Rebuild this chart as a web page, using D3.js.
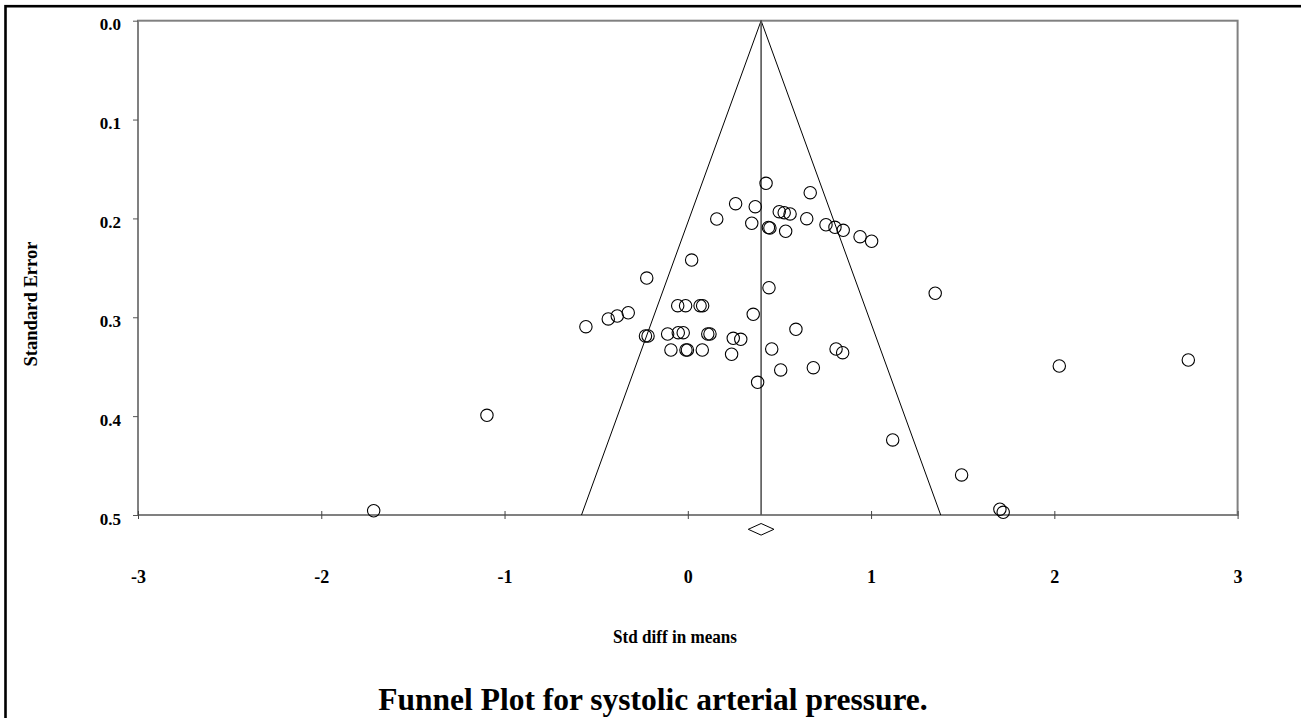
<!DOCTYPE html>
<html>
<head>
<meta charset="utf-8">
<script src="https://cdn.jsdelivr.net/npm/d3@7"></script>
<style>
  html, body { margin: 0; padding: 0; background: #fff; }
  svg { display: block; }
  text { font-family: "Times New Roman", "Liberation Serif", serif; font-weight: bold; fill: #000; }
</style>
</head>
<body>
<svg id="chart" width="1301" height="718"></svg>
<script>
// ---- data ----
const stdDiff = [0.158, 0.261, 0.368, 0.349, 0.427, 0.668, 0.440, 0.448, 0.499, 0.526,
  0.558, 0.534, 0.649, 0.754, 0.803, 0.848, 0.940, 1.003, 0.021, -0.224,
  -0.556, -0.434, -0.385, -0.325, -0.231, -0.217, -0.055, -0.012, 0.067, 0.081,
  -0.110, -0.052, -0.025, 0.109, 0.121, -0.092, -0.010, -0.002, 0.079, 0.248,
  0.289, 0.239, 0.381, 0.443, 0.357, 0.590, 0.458, 0.809, 0.845, 0.507,
  0.685, 1.350, 2.027, 2.731, 1.118, 1.494, 1.703, 1.721, -1.096, -1.714];
const stdErr = [0.2006, 0.1851, 0.1881, 0.2049, 0.1645, 0.1740, 0.2092, 0.2097, 0.1932, 0.1942,
  0.1955, 0.2130, 0.2003, 0.2064, 0.2090, 0.2120, 0.2185, 0.2231, 0.2421, 0.2603,
  0.3095, 0.3017, 0.2987, 0.2954, 0.3189, 0.3189, 0.2883, 0.2883, 0.2883, 0.2883,
  0.3169, 0.3156, 0.3156, 0.3169, 0.3169, 0.3331, 0.3331, 0.3331, 0.3331, 0.3213,
  0.3223, 0.3374, 0.3658, 0.2701, 0.2970, 0.3122, 0.3321, 0.3321, 0.3358, 0.3533,
  0.3510, 0.2757, 0.3493, 0.3432, 0.4241, 0.4595, 0.4942, 0.4973, 0.3992, 0.4957];
const xTicks = [-3, -2, -1, 0, 1, 2, 3];
const xTickLabels = ["-3", "-2", "-1", "0", "1", "2", "3"];
const yTicks = [0.0, 0.1, 0.2, 0.3, 0.4, 0.5];
const yTickLabels = ["0.0", "0.1", "0.2", "0.3", "0.4", "0.5"];
const meanEffect = 0.40;
const meanCIHalf = 0.07;
const zCrit = 1.96;
const xDomain = [-3, 3];
const yDomain = [0, 0.5];
const xLabel = "Std diff in means";
const yLabel = "Standard Error";
const title = "Funnel Plot for systolic arterial pressure.";

// ---- drawing ----
const svg = d3.select("#chart");
svg.append("rect").attr("width", 1301).attr("height", 718).attr("fill", "#fff");

// outer border (only top/left visible in the frame)
svg.append("rect").attr("x", 5.5).attr("y", 6.2).attr("width", 1400).attr("height", 800)
  .attr("fill", "none").attr("stroke", "#000").attr("stroke-width", 2.6);

const x = d3.scaleLinear().domain(xDomain).range([138, 1237.6]);
const y = d3.scaleLinear().domain(yDomain).range([20.7, 515]);

// plot frame
svg.append("rect")
  .attr("x", x.range()[0]).attr("y", y.range()[0])
  .attr("width", x.range()[1] - x.range()[0]).attr("height", y.range()[1] - y.range()[0])
  .attr("fill", "none").attr("stroke", "#808080").attr("stroke-width", 2);

// y axis
const yAxis = svg.append("g").attr("transform", `translate(${x.range()[0]},0)`)
  .call(d3.axisLeft(y).tickValues(yTicks).tickFormat((d, i) => yTickLabels[i]).tickSize(5).tickPadding(12));
yAxis.select(".domain").remove();
yAxis.selectAll("line").attr("stroke", "#555");
yAxis.selectAll("text").attr("font-size", 17).attr("dy", "0.53em")
  .style("font-family", "'Times New Roman','Liberation Serif',serif").style("font-weight", "bold").attr("fill", "#000");

// x axis (ticks cross the bottom line)
const xAxis = svg.append("g").attr("transform", `translate(0,${y.range()[1] - 4})`)
  .call(d3.axisBottom(x).tickValues(xTicks).tickFormat((d, i) => xTickLabels[i]).tickSize(8).tickPadding(51));
xAxis.select(".domain").remove();
xAxis.selectAll("line").attr("stroke", "#444");
xAxis.selectAll("text").attr("font-size", 18)
  .style("font-family", "'Times New Roman','Liberation Serif',serif").style("font-weight", "bold").attr("fill", "#000");

// funnel
const line = d3.line().x(d => x(d[0])).y(d => y(d[1]));
const seMax = yDomain[1];
svg.append("path")
  .attr("d", line([[meanEffect - zCrit * seMax, seMax], [meanEffect, 0], [meanEffect + zCrit * seMax, seMax]]))
  .attr("fill", "none").attr("stroke", "#000").attr("stroke-width", 1);
svg.append("path")
  .attr("d", line([[meanEffect, 0], [meanEffect, seMax]]))
  .attr("fill", "none").attr("stroke", "#555").attr("stroke-width", 1.6);

// points
svg.append("g").selectAll("circle")
  .data(stdDiff.map((d, i) => [d, stdErr[i]]))
  .join("circle")
  .attr("cx", d => x(d[0])).attr("cy", d => y(d[1]))
  .attr("r", 6.2)
  .attr("fill", "none").attr("stroke", "#000").attr("stroke-width", 1.1);

// summary diamond below axis
const dy0 = y(seMax) + 14.3;
svg.append("path")
  .attr("d", `M${x(meanEffect - meanCIHalf)},${dy0} L${x(meanEffect)},${dy0 - 5.8} L${x(meanEffect + meanCIHalf)},${dy0} L${x(meanEffect)},${dy0 + 5.8} Z`)
  .attr("fill", "#fff").attr("stroke", "#000").attr("stroke-width", 1);

// labels
svg.append("text").attr("x", 675).attr("y", 642.7).attr("text-anchor", "middle")
  .attr("font-size", 19).attr("textLength", 124).attr("lengthAdjust", "spacingAndGlyphs")
  .text(xLabel);

svg.append("text").attr("transform", "translate(36.5,304) rotate(-90)").attr("text-anchor", "middle")
  .attr("font-size", 19).attr("textLength", 125).attr("lengthAdjust", "spacingAndGlyphs")
  .text(yLabel);

svg.append("text").attr("x", 653).attr("y", 710).attr("text-anchor", "middle")
  .attr("font-size", 31.5)
  .text(title);
</script>
</body>
</html>
